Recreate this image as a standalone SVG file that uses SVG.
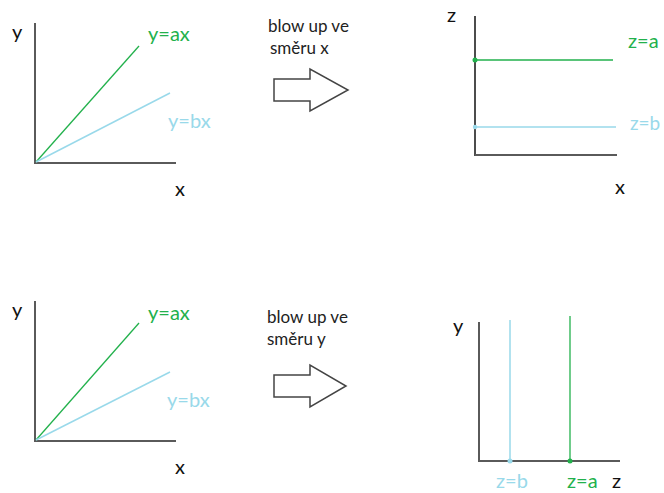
<svg xmlns="http://www.w3.org/2000/svg" width="664" height="493" viewBox="0 0 664 493">
<style>
text{font-family:Lato,"Open Sans","Liberation Sans",sans-serif}
.lab{font-size:20px;fill:#111}
.cap{font-size:17px;fill:#222}
.g{fill:#22b14c;font-size:20px}
.b{fill:#99d9ea;font-size:20px}
.axis{stroke:#5a5a5a;stroke-width:2;fill:none}
.axisk{stroke:#111;stroke-width:1.5;fill:none}
.lg{stroke:#22b14c;stroke-width:1.3;fill:none}
.lb{stroke:#99d9ea;stroke-width:1.5;fill:none}
.arrow{fill:#fff;stroke:#444;stroke-width:1.5}
</style>
<rect width="664" height="493" fill="#fff"/>
<g id="plot-top-left">
<line class="axis" x1="35" y1="23" x2="35" y2="164"/>
<line class="axis" x1="34" y1="163" x2="176" y2="163"/>
<line class="lg" x1="36" y1="162" x2="139" y2="46"/>
<line class="lb" x1="36" y1="162" x2="170" y2="93"/>
<text class="lab" x="12" y="39">y</text>
<text class="g" x="148" y="41">y=ax</text>
<text class="b" x="168" y="128">y=bx</text>
<text class="lab" x="175" y="196">x</text>
</g>
<g id="arrow-top">
<text class="cap" x="268" y="32">blow up ve</text>
<text class="cap" x="270" y="54">směru x</text>
<polygon class="arrow" points="274,79 310,79 310,69 348,90 310,111 310,101 274,101"/>
</g>
<g id="plot-top-right">
<line class="axisk" x1="475" y1="16" x2="475" y2="156"/>
<line class="axis" x1="475" y1="155" x2="617" y2="155"/>
<line class="lg" x1="475" y1="60" x2="613" y2="60"/>
<line class="lb" x1="475" y1="127" x2="616" y2="127"/>
<circle cx="475" cy="60" r="2.5" fill="#22b14c"/>
<circle cx="475" cy="127" r="2.2" fill="#99d9ea"/>
<text class="lab" x="447" y="22">z</text>
<text class="g" x="628" y="48">z=a</text>
<text class="b" x="630" y="130" style="font-size:19px">z=b</text>
<text class="lab" x="615" y="194">x</text>
</g>
<g id="plot-bottom-left">
<line class="axis" x1="35" y1="301" x2="35" y2="442"/>
<line class="axis" x1="34" y1="441" x2="176" y2="441"/>
<line class="lg" x1="36" y1="440" x2="139" y2="323"/>
<line class="lb" x1="36" y1="440" x2="170" y2="372"/>
<text class="lab" x="12" y="317">y</text>
<text class="g" x="148" y="320">y=ax</text>
<text class="b" x="167" y="407">y=bx</text>
<text class="lab" x="175" y="474">x</text>
</g>
<g id="arrow-bottom">
<text class="cap" x="267" y="323">blow up ve</text>
<text class="cap" x="267" y="345">směru y</text>
<polygon class="arrow" points="274,375 310,375 310,365 346,386 310,407 310,397 274,397"/>
</g>
<g id="plot-bottom-right">
<line class="axis" x1="479" y1="322" x2="479" y2="462"/>
<line class="axis" x1="479" y1="461" x2="620" y2="461"/>
<line class="lb" x1="510" y1="320" x2="510" y2="461"/>
<line class="lg" x1="570" y1="316" x2="570" y2="461"/>
<circle cx="510" cy="461" r="2.5" fill="#99d9ea"/>
<circle cx="570" cy="461" r="2.5" fill="#22b14c"/>
<text class="lab" x="453" y="333">y</text>
<text class="b" x="496" y="488">z=b</text>
<text class="g" x="567" y="488">z=a</text>
<text class="lab" x="612" y="488">z</text>
</g>
<g id="connectors"></g>
</svg>
